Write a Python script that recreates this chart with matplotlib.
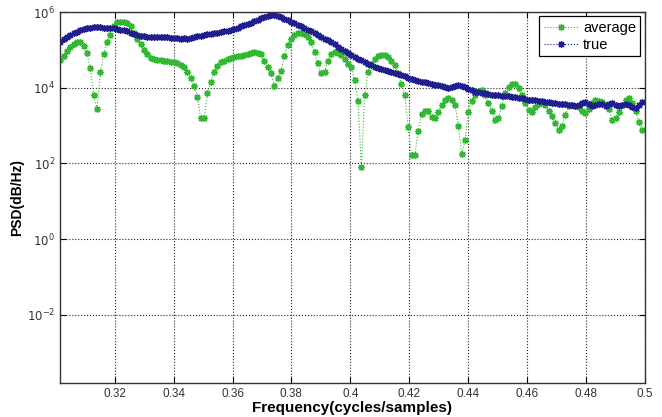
import numpy as np
import matplotlib
matplotlib.use("Agg")
import matplotlib.pyplot as plt

# PSD estimate, values as log10(PSD)
# frequency bins: 175 bins, spacing ~0.001136 cycles/sample starting near 0.3015
n_bins = 175
f_start = 0.3015
f_step = 0.001136

avg_log10 = [
    4.74, 4.85, 4.98, 5.08, 5.15, 5.21, 5.22, 5.10, 4.92, 4.51,
    3.80, 3.45, 4.42, 4.88, 5.20, 5.40, 5.62, 5.73, 5.75, 5.74,
    5.70, 5.62, 5.45, 5.30, 5.16, 5.00, 4.88, 4.80, 4.76, 4.74,
    4.73, 4.72, 4.71, 4.69, 4.68, 4.65, 4.60, 4.54, 4.42, 4.25,
    4.05, 3.76, 3.19, 3.19, 3.85, 4.15, 4.42, 4.58, 4.68, 4.72,
    4.76, 4.79, 4.81, 4.83, 4.85, 4.87, 4.90, 4.92, 4.94, 4.93,
    4.88, 4.72, 4.55, 4.38, 4.05, 4.25, 4.45, 4.85, 5.12, 5.30,
    5.40, 5.45, 5.46, 5.42, 5.35, 5.20, 4.95, 4.65, 4.38, 4.42,
    4.72, 4.88, 4.94, 4.92, 4.86, 4.76, 4.62, 4.55, 4.20, 3.65,
    1.91, 3.80, 4.42, 4.62, 4.75, 4.83, 4.86, 4.86, 4.81, 4.72,
    4.60, 4.40, 4.10, 3.80, 2.97, 2.22, 2.22, 2.85, 3.30, 3.40,
    3.38, 3.23, 3.19, 3.35, 3.55, 3.68, 3.72, 3.68, 3.55, 3.00,
    2.26, 2.61, 3.35, 3.65, 3.82, 3.92, 3.93, 3.82, 3.60, 3.40,
    3.15, 3.20, 3.52, 3.85, 4.03, 4.10, 4.11, 4.00, 3.82, 3.60,
    3.42, 3.36, 3.48, 3.58, 3.63, 3.55, 3.40, 3.25, 3.06, 2.88,
    3.00, 3.28, 3.52, 3.54, 3.52, 3.48, 3.38, 3.34, 3.45, 3.60,
    3.67, 3.66, 3.62, 3.55, 3.45, 3.14, 3.20, 3.35, 3.55, 3.68,
    3.72, 3.60, 3.40, 3.10, 2.88,
]

true_log10 = [
    5.22, 5.28, 5.35, 5.40, 5.44, 5.48, 5.52, 5.55, 5.57, 5.59,
    5.60, 5.61, 5.60, 5.59, 5.59, 5.58, 5.57, 5.56, 5.54, 5.52,
    5.49, 5.45, 5.42, 5.40, 5.38, 5.36, 5.35, 5.35, 5.34, 5.34,
    5.33, 5.34, 5.33, 5.32, 5.32, 5.31, 5.30, 5.31, 5.30, 5.31,
    5.34, 5.37, 5.38, 5.40, 5.42, 5.43, 5.44, 5.45, 5.47, 5.49,
    5.51, 5.53, 5.56, 5.59, 5.62, 5.65, 5.68, 5.72, 5.76, 5.80,
    5.84, 5.87, 5.90, 5.92, 5.92, 5.89, 5.86, 5.82, 5.78, 5.75,
    5.71, 5.67, 5.63, 5.59, 5.54, 5.49, 5.44, 5.40, 5.35, 5.30,
    5.26, 5.21, 5.15, 5.08, 5.02, 4.96, 4.91, 4.86, 4.81, 4.77,
    4.73, 4.68, 4.64, 4.60, 4.56, 4.53, 4.50, 4.47, 4.44, 4.42,
    4.39, 4.36, 4.33, 4.30, 4.27, 4.24, 4.21, 4.19, 4.16, 4.14,
    4.12, 4.10, 4.08, 4.07, 4.05, 4.02, 3.99, 4.01, 4.05, 4.07,
    4.06, 4.02, 3.96, 3.93, 3.90, 3.88, 3.86, 3.85, 3.83, 3.82,
    3.80, 3.80, 3.79, 3.78, 3.77, 3.76, 3.76, 3.74, 3.72, 3.70,
    3.68, 3.67, 3.68, 3.66, 3.64, 3.63, 3.62, 3.60, 3.59, 3.58,
    3.58, 3.56, 3.55, 3.54, 3.53, 3.55, 3.60, 3.62, 3.57, 3.52,
    3.54, 3.58, 3.56, 3.52, 3.56, 3.59, 3.55, 3.51, 3.55, 3.58,
    3.54, 3.48, 3.46, 3.55, 3.62,
]

xticks = [0.32, 0.34, 0.36, 0.38, 0.40, 0.42, 0.44, 0.46, 0.48, 0.50]
xtick_labels = ["0.32", "0.34", "0.36", "0.38", "0.4", "0.42", "0.44", "0.46", "0.48", "0.5"]
ytick_exp = [-2, 0, 2, 4, 6]

freq = f_start + f_step * np.arange(n_bins)
psd_avg = 10.0 ** np.array(avg_log10)
psd_true = 10.0 ** np.array(true_log10)

plt.rcParams['font.family'] = ['Liberation Sans', 'DejaVu Sans']

fig = plt.figure(figsize=(6.62, 4.17), dpi=100)
ax = fig.add_axes([0.0906, 0.0815, 0.8834, 0.8895])

# MATLAB-style asterisk marker
star = (8, 2, 0)
ax.semilogy(freq, psd_avg, ':', color='#33b833', marker=star, markersize=5,
            markeredgewidth=0.9, linewidth=0.8, label='average')
ax.semilogy(freq, psd_true, ':', color='#1f1f8f', marker=star, markersize=5,
            markeredgewidth=0.9, linewidth=0.8, label='true')

ax.set_xlim(0.3014, 0.5)
ax.set_ylim(10 ** -3.8, 1e6)

ax.set_xticks(xticks)
ax.set_xticklabels(xtick_labels)
ax.set_yticks([10.0 ** e for e in ytick_exp])
ax.set_yticklabels([r'$10^{%d}$' % e for e in ytick_exp])
ax.yaxis.set_minor_locator(matplotlib.ticker.NullLocator())

ax.tick_params(direction='in', top=True, right=True, labelsize=8.5,
               labelcolor='#333333', length=4, width=0.8)
ax.grid(True, which='major', color='#222222', linestyle=':', linewidth=0.8)
for sp in ax.spines.values():
    sp.set_linewidth(1.0)
    sp.set_color('#333333')

ax.set_xlabel('Frequency(cycles/samples)', fontsize=11, fontweight='bold', labelpad=1)
ax.set_ylabel('PSD(dB/Hz)', fontsize=10, fontweight='bold', labelpad=2)

leg = ax.legend(loc='upper right', fontsize=10.5, fancybox=False, framealpha=1,
                edgecolor='black', handlelength=2.4, borderaxespad=0.3,
                labelspacing=0.2, handletextpad=0.3, borderpad=0.3)
leg.get_frame().set_linewidth(0.9)

fig.savefig('out.png', dpi=100)
